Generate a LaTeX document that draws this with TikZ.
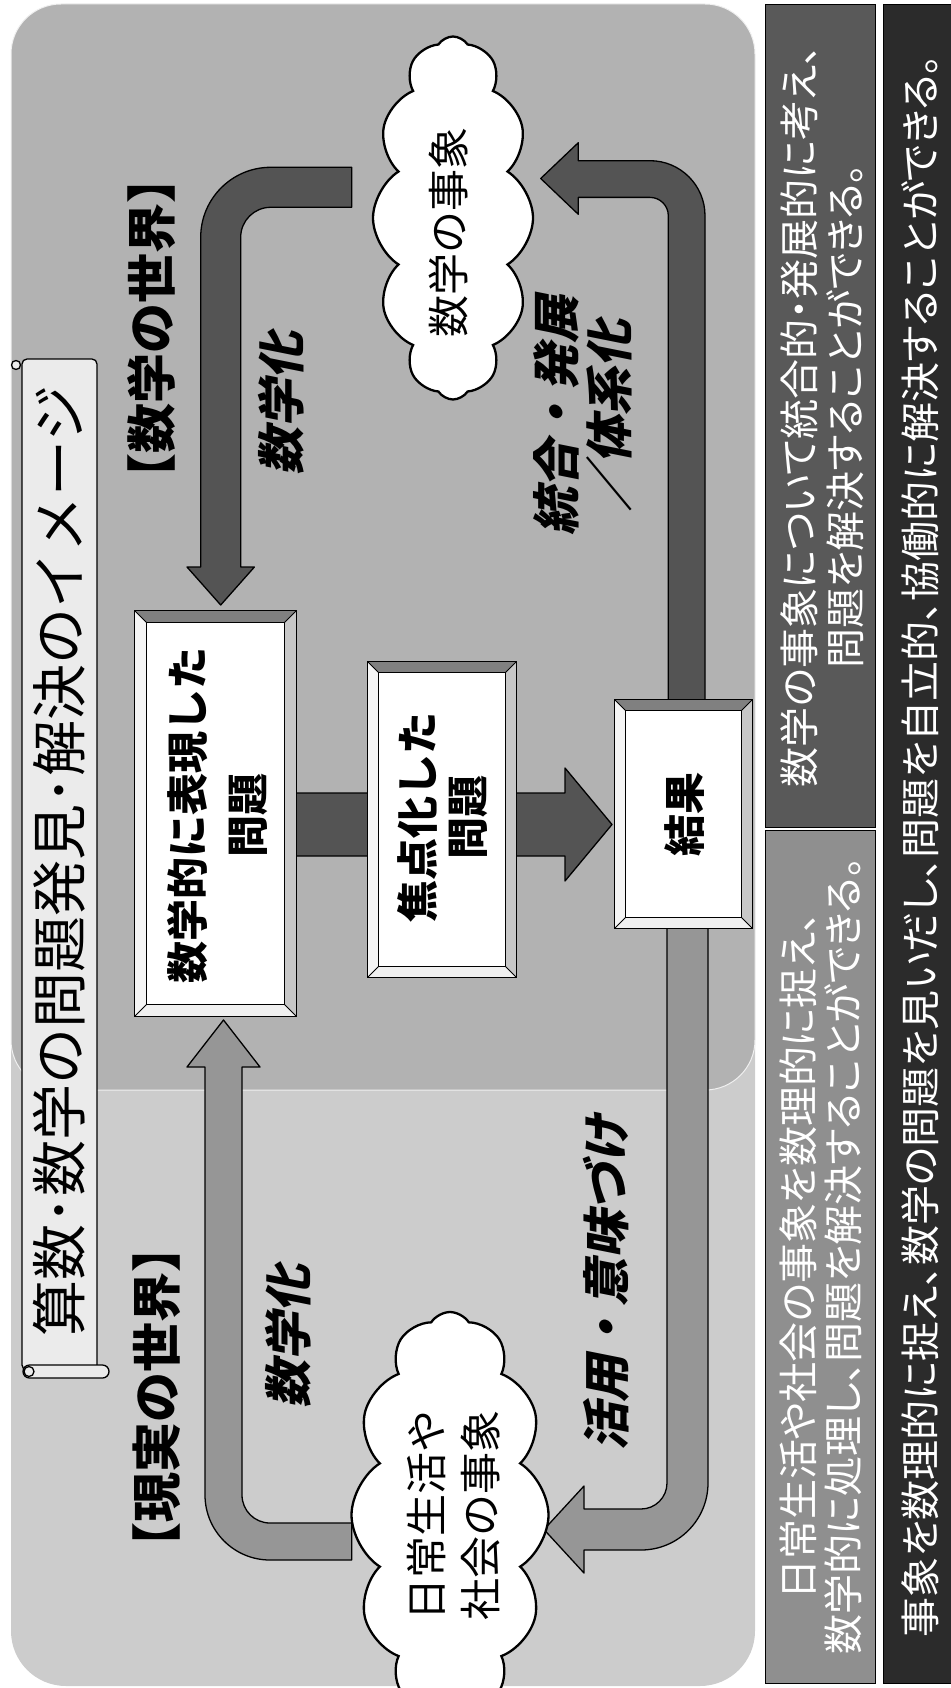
\documentclass[tikz,border=0pt]{standalone}
\usepackage{fontspec}
\setmainfont{Noto Sans CJK JP}
\newfontfamily\labfont{Noto Sans CJK JP}[FakeSlant=0.2]
\newfontfamily\pfont{Noto Sans CJK JP}[RawFeature=+palt]
\usetikzlibrary{shapes.symbols}
\definecolor{paneldark}{gray}{0.70}
\definecolor{panellight}{gray}{0.80}
\definecolor{arrowdark}{gray}{0.33}
\definecolor{arrowlight}{gray}{0.59}
\definecolor{scrollfill}{gray}{0.92}
\definecolor{boxM}{gray}{0.35}
\definecolor{boxN}{gray}{0.56}
\definecolor{boxO}{gray}{0.17}
\definecolor{bevtop}{gray}{0.50}
\definecolor{bevright}{gray}{0.78}
\definecolor{bevleft}{gray}{0.96}
\definecolor{bevbottom}{gray}{0.94}
\newcommand\bevel[2]{%
 \fill[bevtop] (#1.north west) -- (#1.north east) -- ([xshift=-#2pt,yshift=-#2pt]#1.north east) -- ([xshift=#2pt,yshift=-#2pt]#1.north west) -- cycle;
 \fill[bevright] (#1.north east) -- (#1.south east) -- ([xshift=-#2pt,yshift=#2pt]#1.south east) -- ([xshift=-#2pt,yshift=-#2pt]#1.north east) -- cycle;
 \fill[bevbottom] (#1.south east) -- (#1.south west) -- ([xshift=#2pt,yshift=#2pt]#1.south west) -- ([xshift=-#2pt,yshift=#2pt]#1.south east) -- cycle;
 \fill[bevleft] (#1.south west) -- (#1.north west) -- ([xshift=#2pt,yshift=-#2pt]#1.north west) -- ([xshift=#2pt,yshift=#2pt]#1.south west) -- cycle;
 \draw[line width=0.8pt] ([xshift=#2pt,yshift=-#2pt]#1.north west) rectangle ([xshift=-#2pt,yshift=#2pt]#1.south east);
 \draw[line width=0.8pt] (#1.north west) -- ([xshift=#2pt,yshift=-#2pt]#1.north west)
   (#1.north east) -- ([xshift=-#2pt,yshift=-#2pt]#1.north east)
   (#1.south east) -- ([xshift=-#2pt,yshift=#2pt]#1.south east)
   (#1.south west) -- ([xshift=#2pt,yshift=#2pt]#1.south west);
 \draw[line width=1.3pt] (#1.north west) rectangle (#1.south east);
}
\begin{document}
\begin{tikzpicture}[x=1pt,y=-1pt,
  arrowd/.style={fill=arrowdark, draw=black, line width=1.3pt, line join=round},
  arrowl/.style={fill=arrowlight, draw=black, line width=1.3pt, line join=round},
  boxst/.style={fill=white, draw=black, line width=1.3pt, inner sep=0pt},
  vtext/.style={rotate=90, inner sep=0pt, align=center},
  cloudst/.style={cloud, cloud puffs=12, cloud puff arc=115, cloud ignores aspect, draw=black, fill=white, line width=2.3pt, rotate=90, inner sep=0pt},
  sidebox/.style={draw=black, line width=1pt},
  scrollst/.style={fill=scrollfill, draw=black, line width=1.3pt},
]
\useasboundingbox (0,0) rectangle (950,1688);
% panels
\fill[panellight, rounded corners=55pt] (11,4) rectangle (755,1686);
\filldraw[fill=paneldark, draw=white!80!paneldark, line width=1pt, rounded corners=50pt] (11,4) rectangle (755,1090);
% title scroll
\filldraw[scrollst, rounded corners=5pt] (22,359) rectangle (97,1370);
\filldraw[scrollst] (16,365) circle[radius=4.5];
\filldraw[scrollst, rounded corners=6.5pt] (23,1365) rectangle (109,1378);
\draw[line width=1.3pt] (29,1371.5) circle[radius=5];
\node[vtext, font=\fontsize{56}{60}\selectfont] (title) at (59,861) {算数･数学の問題発見･解決のイメージ};
% world labels
\node[vtext, font=\fontsize{50}{55}\selectfont\bfseries] (wmath) at (152,328) {【数学の世界】};
\node[vtext, font=\fontsize{50}{55}\selectfont\bfseries] (wreal) at (157,1397) {【現実の世界】};
% arrow labels
\node[vtext, font=\fontsize{48}{53}\selectfont\labfont\bfseries] (l1) at (281,403) {数学化};
\node[vtext, font=\fontsize{48}{53}\selectfont\labfont\bfseries] (l2) at (288,1336) {数学化};
\node[vtext, font=\fontsize{48}{53}\selectfont\labfont\bfseries] (l3) at (583,415) {統合・発展\\／体系化};
\node[vtext, font=\fontsize{48}{53}\selectfont\labfont\bfseries] (l4) at (606,1282) {活用・意味づけ};
% U arrows
\draw[arrowd] (351.7,167.3) -- (270.7,167.3) arc[start angle=270, end angle=180, radius=70] -- (200.7,567) -- (187,567) -- (220.7,605) -- (254.4,567) -- (240.7,567) -- (240.7,237.3) arc[start angle=180, end angle=270, radius=30] -- (351.7,207.3) -- cycle;
\draw[arrowl] (351.7,1560) -- (270,1560) arc[start angle=90, end angle=180, radius=65] -- (205,1067) -- (187,1067) -- (223.5,1020) -- (260,1067) -- (242,1067) -- (242,1495) arc[start angle=180, end angle=90, radius=28] -- (351.7,1523) -- cycle;
\draw[arrowd] (705,705) -- (705,215.7) arc[start angle=0, end angle=-90, radius=55] -- (578.3,160.7) -- (578.3,142.7) -- (540.7,178.5) -- (578.3,214.3) -- (578.3,197.4) -- (650,197.4) arc[start angle=-90, end angle=0, radius=18.3] -- (668.3,705) -- cycle;
\draw[arrowl] (708,925) -- (708,1483) arc[start angle=0, end angle=90, radius=67] -- (584,1550) -- (584,1573) -- (544,1529.5) -- (584,1486) -- (584,1509) -- (641,1509) arc[start angle=90, end angle=0, radius=26] -- (667,925) -- cycle;
% horizontal arrow
\draw[arrowd] (290,793) -- (565,793) -- (565,768) -- (612,824.5) -- (565,881) -- (565,856) -- (290,856) -- cycle;
% boxes
\node[boxst, minimum width=161pt, minimum height=405pt] (b1) at (215.5,813.5) {};
\bevel{b1}{12}
\node[vtext, font=\fontsize{42}{60}\selectfont\bfseries] (b1t) at (218,815) {数学的に表現した\\問題};
\node[boxst, minimum width=148pt, minimum height=315pt] (b2) at (442,819.5) {};
\bevel{b2}{11}
\node[vtext, font=\fontsize{42}{50}\selectfont\bfseries] (b2t) at (443,817) {焦点化した\\問題};
\node[boxst, minimum width=137pt, minimum height=228pt] (b3) at (683.5,814) {};
\bevel{b3}{11}
\node[vtext, font=\fontsize{42}{50}\selectfont\bfseries] (b3t) at (685,814) {結果};
% clouds
\node[cloudst, minimum width=363pt, minimum height=160pt] (c1) at (453,218) {};
\node[vtext, font=\fontsize{42}{50}\selectfont] (c1t) at (448,232) {数学の事象};
\node[cloudst, minimum width=406pt, minimum height=197pt] (c2) at (450,1515) {};
\node[vtext, font=\fontsize{42}{54}\selectfont] (c2t) at (454,1515) {日常生活や\\社会の事象};
% side boxes
\filldraw[sidebox, fill=boxM] (765,5) rectangle (875,827);
\filldraw[sidebox, fill=boxN] (765,830) rectangle (875,1683);
\filldraw[sidebox, fill=boxO] (883,5) rectangle (951,1683);
\node[vtext, text=white, font=\fontsize{40}{45.5}\selectfont\pfont] (mt) at (822,416) {数学の事象について統合的・発展的に考え、\\問題を解決することができる。};
\node[vtext, text=white, font=\fontsize{40}{45.5}\selectfont\pfont] (nt) at (821,1256) {日常生活や社会の事象を数理的に捉え、\\数学的に処理し、問題を解決することができる。};
\node[vtext, text=white, font=\fontsize{40}{45}\selectfont\pfont] (ot) at (920,846) {事象を数理的に捉え、数学の問題を見いだし、問題を自立的、協働的に解決することができる。};
\end{tikzpicture}
\end{document}
